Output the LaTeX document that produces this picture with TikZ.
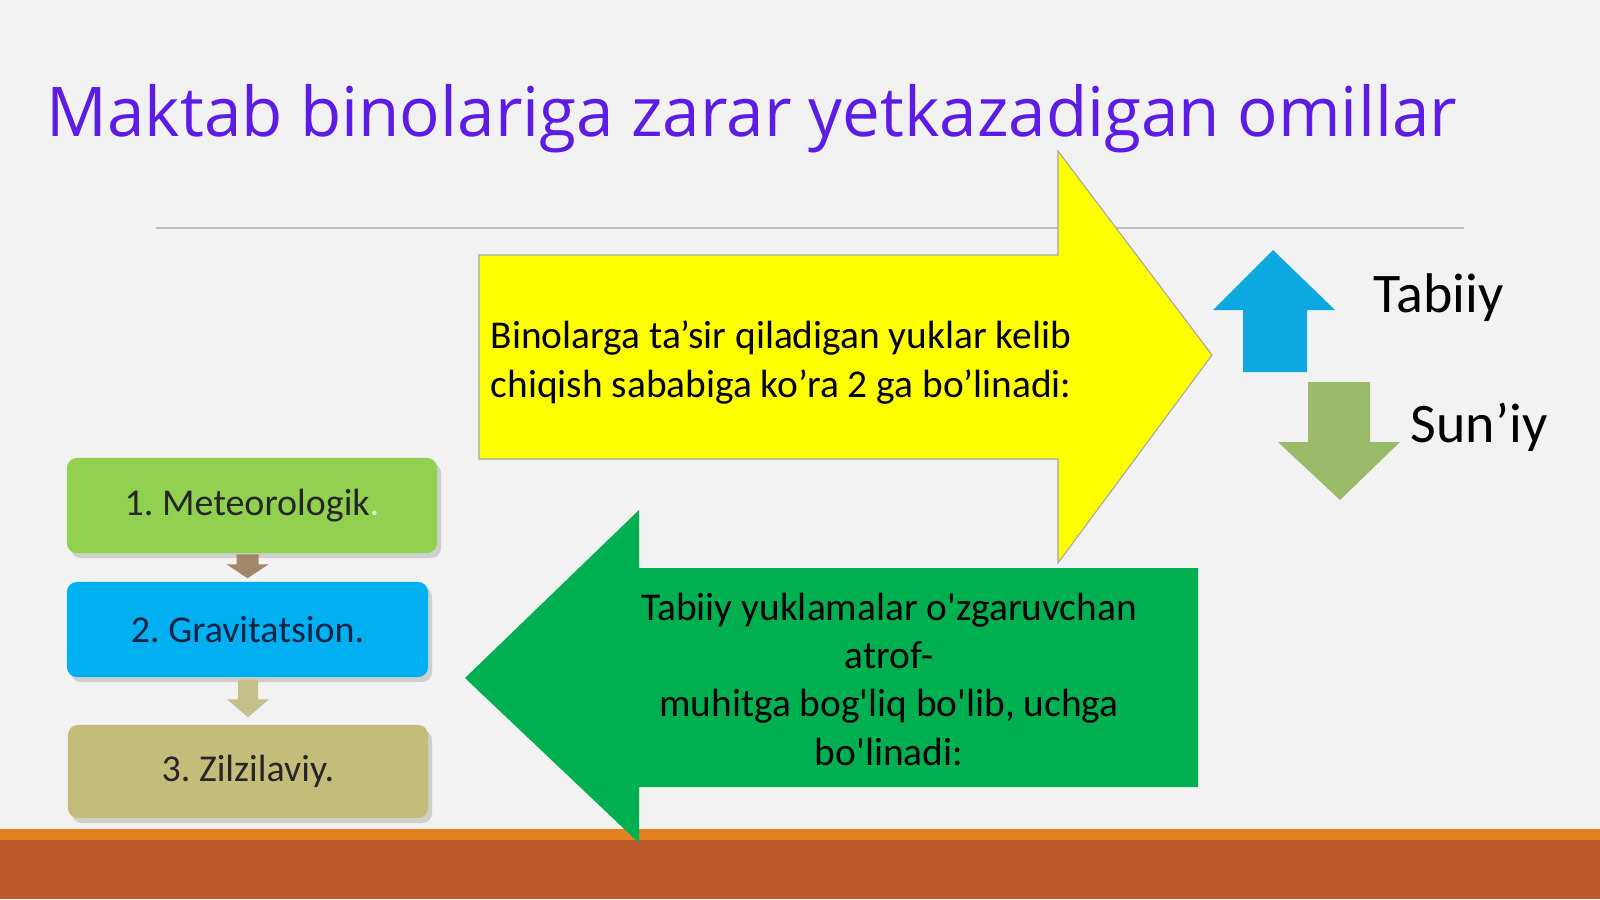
\documentclass[tikz,border=0pt]{standalone}
\usepackage{fontspec}
\setmainfont{Carlito}
\newfontfamily\titlefont{Open Sans}
\usetikzlibrary{shadows}
\frenchspacing

\definecolor{slidebg}{RGB}{242,242,242}
\definecolor{titleblue}{RGB}{92,28,230}
\definecolor{rulegray}{RGB}{190,190,190}
\definecolor{arrowyellow}{RGB}{255,255,0}
\definecolor{arrowgreen}{RGB}{0,176,80}
\definecolor{boxgreen}{RGB}{146,208,80}
\definecolor{boxblue}{RGB}{0,176,240}
\definecolor{boxkhaki}{RGB}{196,189,122}
\definecolor{stepbrown}{RGB}{160,135,105}
\definecolor{stepkhaki}{RGB}{196,192,140}
\definecolor{upblue}{RGB}{14,168,224}
\definecolor{downgreen}{RGB}{155,187,106}
\definecolor{stripelight}{RGB}{228,128,30}
\definecolor{stripedark}{RGB}{188,90,43}

\begin{document}
\begin{tikzpicture}[x=0.01cm,y=-0.01cm,
    factor/.style={rounded corners=1mm, minimum height=0.95cm, inner sep=0pt,
        font=\fontsize{10.8}{13}\selectfont,
        drop shadow={shadow xshift=0.4mm, shadow yshift=-0.5mm, opacity=0.3}},
    bigtext/.style={inner sep=0pt, font=\fontsize{11.2}{13.7}\selectfont},
    sidetext/.style={inner sep=0pt, anchor=base west, font=\fontsize{15.9}{19}\selectfont}]
    \useasboundingbox (0,0) rectangle (1600,899);
    \fill[slidebg] (0,0) rectangle (1600,899);
    \draw[rulegray, line width=0.5pt] (156,228) to (1464,228);

    \node[anchor=base west, inner sep=0pt, text=titleblue] (title) at (46,136)
        {\titlefont\fontsize{19.5}{23}\selectfont\scalebox{0.982}[1]{Maktab binolariga zarar yetkazadigan omillar}};

    \draw[fill=arrowyellow, draw=gray!70, line width=0.3pt] (479,255) -- (1058,255) -- (1058,151) -- (1212,355)
        -- (1058,563) -- (1058,459) -- (479,459) -- cycle;
    \node[bigtext, anchor=base west, align=left] (causes) at (490,397)
        {Binolarga ta’sir qiladigan yuklar kelib\\chiqish sababiga ko’ra 2 ga bo’linadi:};

    \fill[upblue] (1243,372) -- (1243,310) -- (1213,310) -- (1273,250) -- (1335,310) -- (1307,310) -- (1307,372) -- cycle;
    \fill[downgreen] (1308,382) -- (1370,382) -- (1370,442) -- (1400,442) -- (1340,500) -- (1278,442) -- (1308,442) -- cycle;
    \node[sidetext] (tabiiy) at (1373,312) {Tabiiy};
    \node[sidetext] (suniy) at (1410,442) {Sun’iy};

    \node[factor, fill=boxgreen, minimum width=3.7cm, text=black!85] (met) at (252,505.5)
        {1. Meteorologik\textcolor{white!70!boxgreen}{.}};
    \node[factor, fill=boxblue, minimum width=3.61cm, text={rgb,255:red,15;green,35;blue,70}] (grav) at (247.5,629.5)
        {2. Gravitatsion.};
    \node[factor, fill=boxkhaki, minimum width=3.6cm, minimum height=0.93cm, text=black!85] (zilz) at (248,771.5)
        {3. Zilzilaviy.};

    \fill[stepbrown] (grav.north) ++(-11,-27) -- ++(22,0) -- ++(0,10) -- ++(10,0) -- ++(-21,14) -- ++(-21,-14) -- ++(10,0) -- cycle;
    \fill[stepkhaki] (zilz.north) ++(-10,-45) -- ++(20,0) -- ++(0,20) -- ++(11,0) -- ++(-21,18) -- ++(-21,-18) -- ++(11,0) -- cycle;

    \fill[stripelight] (0,829) rectangle (1600,840);
    \fill[stripedark] (0,840) rectangle (1600,899);

    \fill[arrowgreen] (1198,568) -- (639,568) -- (639,510) -- (465,678) -- (639,843) -- (639,787) -- (1198,787) -- cycle;
    \node[bigtext, anchor=base, align=center] (natural) at (889,765)
        {Tabiiy yuklamalar o\textquotesingle zgaruvchan\\atrof-\\muhitga bog\textquotesingle liq bo\textquotesingle lib, uchga\\bo\textquotesingle linadi:};
\end{tikzpicture}
\end{document}
